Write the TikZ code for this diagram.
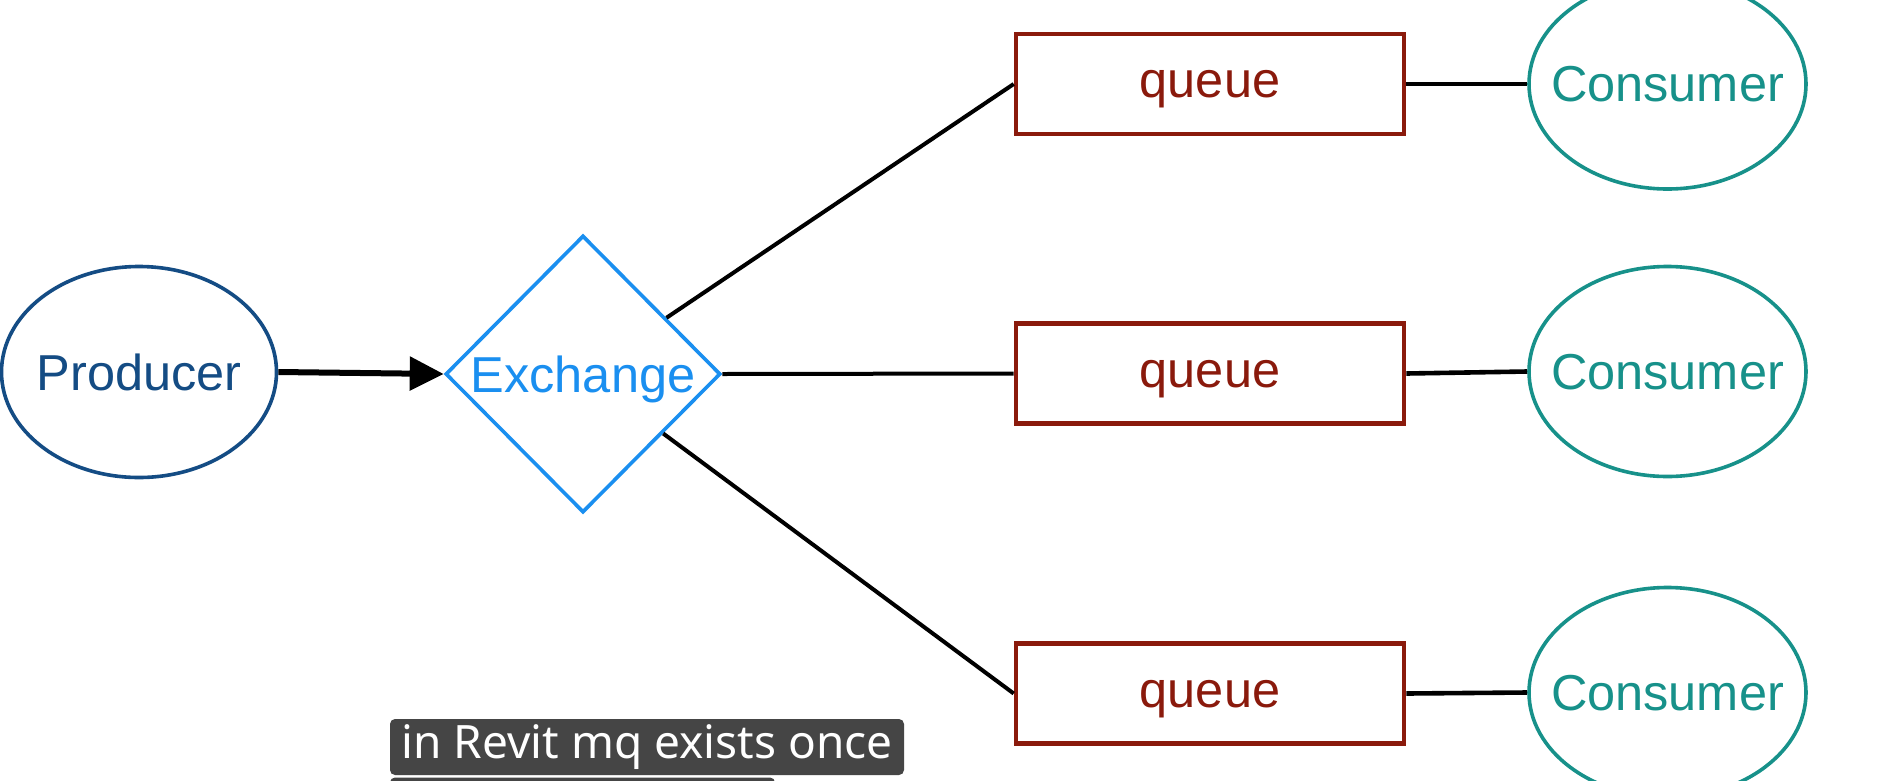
\documentclass[tikz,border=0pt]{standalone}
\usepackage{fontspec}
\setmainfont{Liberation Sans}
\newfontfamily\capfont{Noto Sans}
\usetikzlibrary{shapes.geometric,arrows.meta}
\definecolor{prodblue}{RGB}{20,76,132}
\definecolor{exblue}{RGB}{26,143,240}
\definecolor{qred}{RGB}{138,26,12}
\definecolor{cteal}{RGB}{23,145,138}
\definecolor{capgray}{RGB}{69,69,69}
\tikzset{
  lbl/.style={font=\fontsize{50.5}{60}\selectfont, inner sep=0pt, text depth=0pt},
  prodnode/.style={lbl, ellipse, draw=prodblue, text=prodblue, line width=3.6pt,
    minimum width=275pt, minimum height=211pt},
  exnode/.style={lbl, diamond, draw=exblue, text=exblue, line width=3.6pt,
    minimum width=275pt, minimum height=277pt},
  qnode/.style={lbl, rectangle, draw=qred, text=qred, line width=4.6pt,
    minimum width=388pt, minimum height=100pt},
  cnode/.style={lbl, ellipse, draw=cteal, text=cteal, line width=3.6pt,
    minimum width=277pt, minimum height=210pt},
  link/.style={draw=black, line width=4pt},
  shortlink/.style={draw=black, line width=4.6pt},
  capbox/.style={fill=capgray, rounded corners=5pt, inner sep=0pt,
    minimum width=514pt, minimum height=56pt, text=white,
    font=\capfont\fontsize{46}{55}\selectfont}
}
\newcommand{\zw}[1]{\makebox[0pt]{#1}}
\begin{document}
\begin{tikzpicture}[x=1pt,y=-1pt]
\clip (0,0) rectangle (1879,780);
\fill[white] (0,0) rectangle (1879,780);
\node[prodnode] (prod) at (139,372) {\zw{Producer}};
\node[exnode] (exch) at (583,374) {\zw{Exchange}};
\node[qnode] (q1) at (1210,84) {queue};
\node[qnode] (q2) at (1210,373.5) {queue};
\node[qnode] (q3) at (1210,693.5) {queue};
\node[cnode] (c1) at (1667.5,84) {\zw{Consumer}};
\node[cnode] (c2) at (1667.5,371.5) {\zw{Consumer}};
\node[cnode] (c3) at (1667.5,692.5) {\zw{Consumer}};
\draw[line width=6pt, -{Triangle[length=34pt,width=33pt]}] (prod.east) -- (exch.west);
\draw[link] (exch) -- (q1.west);
\draw[link] (exch.east) -- (q2.west);
\draw[link] (exch) -- (q3.west);
\draw[shortlink] (q1.east) -- (c1.west);
\draw[shortlink] (q2.east) -- (c2.west);
\draw[shortlink] (q3.east) -- (c3.west);
\node[capbox] (cap) at (647,747) {in Revit mq exists once};
\node[capbox, minimum width=385pt] (cap2) at (582.5,805.5) {};
\end{tikzpicture}
\end{document}
